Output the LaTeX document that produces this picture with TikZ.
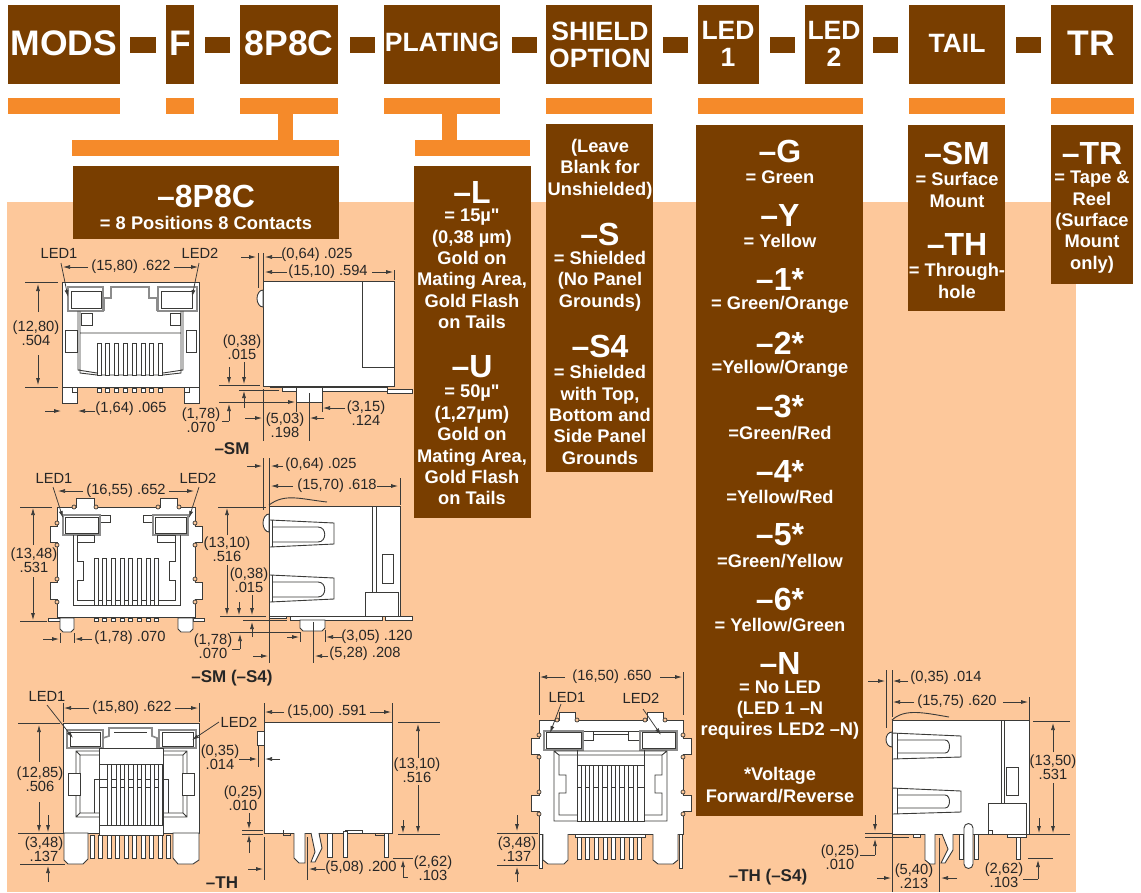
\documentclass[tikz,border=0pt]{standalone}
\usepackage{fontspec}
\defaultfontfeatures[\rmfamily]{}
\setmainfont{Liberation Sans}
\usetikzlibrary{arrows.meta}
\definecolor{brownbox}{HTML}{793E00}
\definecolor{orangebar}{HTML}{F58A2A}
\definecolor{peachbg}{HTML}{FDC89B}
\definecolor{inkline}{HTML}{3A3A38}
\tikzset{
	headbig/.style={text=white, font=\bfseries\fontsize{35.5}{36}\selectfont, inner sep=0pt},
	headmid/.style={text=white, font=\bfseries\fontsize{26.5}{27}\selectfont, align=center, inner sep=0pt},
	optbig/.style={text=white, font=\bfseries\fontsize{32}{32}\selectfont, inner sep=0pt},
	opttxt/.style={text=white, font=\bfseries\fontsize{18.3}{21.4}\selectfont, align=center, inner sep=0pt},
	dimtxt/.style={text=black!85, font=\fontsize{14.7}{14.5}\selectfont, align=center, inner sep=0pt},
	captxt/.style={text=black!85, font=\bfseries\fontsize{17}{17}\selectfont, inner sep=0pt},
	part/.style={draw=inkline, fill=white, line width=0.9pt},
	thinpart/.style={draw=inkline, fill=white, line width=0.6pt},
	edge/.style={draw=inkline, line width=0.9pt},
	ledframe/.style={draw=black!45, fill=white, line width=1.6pt},
	notch/.style={draw=inkline, fill=peachbg, line width=0.7pt},
	dim/.style={draw=inkline, line width=0.75pt},
	dimarrow/.style={dim, -{Latex[length=7pt,width=4pt]}},
}
\begin{document}
\begin{tikzpicture}[x=1pt, y=-1pt]
	\useasboundingbox (0,0) rectangle (1141,892);
	\fill[peachbg] (7,202) rectangle (1076,892);

	% top row
	\foreach \xa/\xb in {8/120,166/194,240/338,384/500,546/652,698/759,805/863,909/1005,1051/1133}
		\fill[brownbox] (\xa,5) rectangle (\xb,84);
	\foreach \xa/\xb in {130/156,205/230,350/375,512/537,663/688,770/795,873/898,1016/1041}
		\fill[brownbox] (\xa,37) rectangle (\xb,53);
	\node[headbig] (mods) at (64,43) {MODS};
	\node[headbig] (f) at (180,43) {F};
	\node[headbig] (pos) at (289,43) {8P8C};
	\node[headmid] (plating) at (442,42) {PLATING};
	\node[headmid] (shield) at (600,45) {SHIELD\\OPTION};
	\node[headmid] (led1) at (728,44) {LED\\1};
	\node[headmid] (led2) at (834,44) {LED\\2};
	\node[headmid] (tail) at (957,43) {TAIL};
	\node[headbig] (tr) at (1091,43) {TR};

	% orange bars
	\foreach \xa/\xb in {8/120,166/194,240/338,384/500,546/652,698/863,909/1005,1051/1134}
		\fill[orangebar] (\xa,98) rectangle (\xb,114);
	\fill[orangebar] (278,114) rectangle (293,140);
	\fill[orangebar] (72,140) rectangle (339,156);
	\fill[orangebar] (442,114) rectangle (457,140);
	\fill[orangebar] (415,140) rectangle (530,156);

	% option boxes
	\fill[brownbox] (73,166) rectangle (339,239);
	\node[optbig] (o8p) at (206,196) {–8P8C};
	\node[opttxt] (o8ptxt) at (206,223) {= 8 Positions 8 Contacts};

	\fill[brownbox] (414,166) rectangle (531,518);
	\node[optbig] (ol) at (472,192) {–L};
	\node[opttxt] (oltxt) at (472,269) {= 15µ"\\(0,38 µm)\\Gold on\\Mating Area,\\Gold Flash\\on Tails};
	\node[optbig] (ou) at (472,367) {–U};
	\node[opttxt] (outxt) at (472,445) {= 50µ"\\(1,27µm)\\Gold on\\Mating Area,\\Gold Flash\\on Tails};

	\fill[brownbox] (546,124) rectangle (653,472);
	\node[opttxt] (oblank) at (600,169) {(Leave\\Blank for\\Unshielded)};
	\node[optbig] (os) at (600,234) {–S};
	\node[opttxt] (ostxt) at (600,281) {= Shielded\\(No Panel\\Grounds)};
	\node[optbig] (os4) at (600,346) {–S4};
	\node[opttxt] (os4txt) at (600,415) {= Shielded\\with Top,\\Bottom and\\Side Panel\\Grounds};

	\fill[brownbox] (696,125) rectangle (863,816);
	\foreach \y/\name/\tag/\txt in {
		151/G/g/{= Green}, 215/Y/y/{= Yellow}, 279/1*/a/{= Green/Orange}, 343/2*/b/{=Yellow/Orange},
		407/3*/c/{=Green/Red}, 471/4*/d/{=Yellow/Red}, 535/5*/e/{=Green/Yellow}, 599/6*/f/{= Yellow/Green}}{
		\node[optbig] (led\tag) at (780,\y) {–\name};
		\node[opttxt] (led\tag txt) at (780,\y+26) {\txt};
	}
	\node[optbig] (ledn) at (780,663) {–N};
	\node[opttxt] (ledntxt) at (780,710) {= No LED\\(LED 1 –N\\requires LED2 –N)};
	\node[opttxt] (ledvolt) at (780,785) {*Voltage\\Forward/Reverse};

	\fill[brownbox] (908,125) rectangle (1005,311);
	\node[optbig] (osm) at (957,153) {–SM};
	\node[opttxt] (osmtxt) at (957,190) {= Surface\\Mount};
	\node[optbig] (oth) at (957,244) {–TH};
	\node[opttxt] (othtxt) at (957,281) {= Through-\\hole};

	\fill[brownbox] (1051,125) rectangle (1133,284);
	\node[optbig] (otr) at (1092,153) {–TR};
	\node[opttxt] (otrtxt) at (1092,222) {= Tape \&\\Reel\\(Surface\\Mount\\only)};

	% -SM front
	\draw[part] (62,282) rectangle (199,387);
	\draw[part] (62,387) rectangle (77,403) (184,387) rectangle (199,403);
	\draw[edge] (72,387) -- (72,392) -- (77,392) (189,387) -- (189,392) -- (184,392);
	\draw[ledframe] (68,287) rectangle (103,311) (158,287) rectangle (197,311);
	\draw[thinpart] (71,291) rectangle (101,308) (161,291) rectangle (192,308);
	\draw[ledframe, fill=none] (104,311) -- (104,298) -- (111,298) -- (111,287) -- (149,287) -- (149,298) -- (157,298) -- (157,311);
	\draw[edge] (78,311) -- (78,370) -- (97,373) (183,311) -- (183,370) -- (163,373) (80,311) -- (80,373) -- (97,375) (181,311) -- (181,373) -- (163,375) (80,333) -- (181,333) (97,375) -- (163,375);
	\draw[part] (65,330) rectangle (77,352) (186,330) rectangle (196,352);
	\draw[part] (81,313) rectangle (92,325) (170,313) rectangle (180,325);
	\foreach \x in {97,105.8,...,160} {
		\draw[part] (\x,343) rectangle ++(4,32);
		\draw[part] (\x,388) rectangle ++(4,4);
	}

	% -SM side
	\draw[part] (263,281) rectangle (394,386);
	\draw[edge] (362,281) -- (362,367) -- (394,367);
	\draw[part] (263,290) arc[start angle=270, end angle=90, x radius=6, y radius=8.5] -- cycle;
	\draw[part] (270,386) -- (270,387) -- (344,387) -- (344,386) -- cycle;
	\draw[part] (282,387) rectangle (387,391);
	\draw[part] (387,389) rectangle (412,393);
	\draw[part] (296,387) rectangle (322,402);

	% -SM (-S4) front
	\draw[part] (57,507) -- (76,507) -- (76,498) -- (94,498) -- (94,507) -- (160,507) -- (160,498) -- (177,498) -- (177,507) -- (195,507) -- (195,526) -- (202,526) -- (202,542) -- (195,542) -- (195,582) -- (202,582) -- (202,599) -- (195,599) -- (195,617) -- (57,617) -- (57,599) -- (50,599) -- (50,582) -- (57,582) -- (57,542) -- (50,542) -- (50,526) -- (57,526) -- cycle;
	\foreach \a/\b in {57/523,57/545,57/579,57/602,195/523,195/545,195/579,195/602,74/507,96/507,158/507,179/507}
		\draw[notch] (\a,\b) circle[radius=2];
	\draw[part] (100,515) rectangle (110,522) (143,515) rectangle (153,522);
	\draw[ledframe] (63,515) rectangle (100,535) (153,515) rectangle (188,535);
	\draw[thinpart] (65,517) rectangle (98,533) (155,517) rectangle (186,533);
	\draw[edge] (73,535) -- (73,605) -- (180,605) -- (180,535) (77,535) -- (77,561) -- (83,561) -- (83,580) -- (77,580) -- (77,600) -- (175,600) -- (175,580) -- (169,580) -- (169,561) -- (175,561) -- (175,535);
	\draw[part] (77,535) rectangle (94,542) (157,535) rectangle (175,542);
	\foreach \x in {94,102.7,...,158} {
		\draw[part] (\x,558) rectangle ++(4,47);
		\draw[part] (\x,618) rectangle ++(4,3);
	}
	\draw[part] (48,618) rectangle (60,621) (193,618) rectangle (204,621);
	\draw[part] (60,618) -- (60,629) -- (63,632) -- (71,632) -- (74,629) -- (74,618) -- cycle;
	\draw[part] (178,618) -- (178,629) -- (181,632) -- (190,632) -- (193,629) -- (193,618) -- cycle;

	% -SM (-S4) side
	\draw[part] (269,506) rectangle (400,616);
	\draw[edge] (269,505) .. controls (285,493) and (300,499) .. (327,502);
	\draw[edge] (372,506) -- (372,592) (376,506) -- (376,592);
	\draw[part] (382,554) rectangle (393,583);
	\draw[part] (365,592) rectangle (398,616);
	\draw[part] (269,514) arc[start angle=270, end angle=90, x radius=6, y radius=9] -- cycle;
	\foreach \y in {520,575} {
		\draw[edge] (270,\y) -- (334,\y+3) -- (334,\y+24) -- (270,\y+27);
		\draw[edge] (272,\y) -- (272,\y+27);
		\draw[edge] (272,\y+7) -- (318,\y+7) .. controls (327,\y+7) and (327,\y+22) .. (318,\y+22) -- (272,\y+22);
	}
	\draw[part] (269,616) rectangle (286,618) (290,616) rectangle (382,620) (385,616) rectangle (412,620);
	\draw[part] (300,620) -- (300,628) -- (303,631) -- (322,631) -- (325,628) -- (325,620) -- cycle;

	% -TH front
	\draw[part] (63,723) rectangle (199,833);
	\draw[ledframe] (67,730) rectangle (103,748) (159,730) rectangle (196,748);
	\draw[thinpart] (70,732) rectangle (100,746) (162,732) rectangle (193,746);
	\draw[ledframe, fill=none] (103,748) -- (103,738) -- (109,736) -- (109,728) -- (152,728) -- (152,736) -- (157,738) -- (157,748);
	\draw[edge] (114,732) -- (147,732);
	\draw[edge] (76,751) rectangle (187,817) (80,755) rectangle (183,813) (76,751) -- (80,755) (187,751) -- (183,755) (76,817) -- (80,813) (187,817) -- (183,813);
	\draw[part] (68,773) rectangle (80,795) (182,773) rectangle (194,795);
	\draw[part] (99,748) rectangle (163,835);
	\draw[edge] (94,813) -- (94,779) -- (168,779) -- (168,813) (99,787) -- (163,787) (99,825) -- (163,825) (99,764) -- (163,764);
	\foreach \x in {107.5,116,...,160} \draw[part] (\x,764) rectangle ++(4,61);
	\draw[part] (64,833) -- (64,860) -- (68,864) -- (83,864) -- (88,859) -- (88,833) -- cycle;
	\draw[part] (173,833) -- (173,858) -- (178,864) -- (193,864) -- (199,860) -- (199,833) -- cycle;
	\foreach \x in {90,98.5,...,170} \draw[part] (\x,835) rectangle ++(4,23);

	% -TH side
	\draw[part] (264,722) rectangle (392,833);
	\draw[part] (264,731) -- (257,731) -- (257,745) -- (264,745);
	\draw[edge] (283,830) -- (283,835) -- (290,835) -- (290,833) (345,833) -- (345,830) -- (362,830) -- (362,833) (375,833) -- (375,835) -- (385,835);
	\draw[part] (294,833) -- (294,858) -- (299,863) -- (305,863) -- (305,833);
	\draw[part] (311,833) -- (315,852) -- (311,862) -- (315,862) -- (322,848) -- (319,833);
	\draw[part] (327,833) rectangle (332,857) (343,831) rectangle (347,857) (384,833) rectangle (388,857);

	% -TH (-S4) front
	\draw[part] (539,720) -- (559,720) -- (559,712) -- (575,712) -- (575,720) -- (647,720) -- (647,712) -- (663,712) -- (663,720) -- (683,720) -- (683,738) -- (691,738) -- (691,754) -- (683,754) -- (683,795) -- (691,795) -- (691,811) -- (683,811) -- (683,834) -- (539,834) -- (539,811) -- (531,811) -- (531,795) -- (539,795) -- (539,754) -- (531,754) -- (531,738) -- (539,738) -- cycle;
	\foreach \a/\b in {539/735,539/757,539/792,539/814,683/735,683/757,683/792,683/814,557/720,577/720,645/720,665/720}
		\draw[notch] (\a,\b) circle[radius=2];
	\draw[edge] (593,731) -- (628,731) (593,734) -- (628,734);
	\draw[part] (582,731) rectangle (593,740) (628,731) rectangle (640,740);
	\draw[ledframe] (544,731) rectangle (583,750) (640,731) rectangle (677,750);
	\draw[thinpart] (546,732) rectangle (581,748) (642,732) rectangle (675,748);
	\draw[edge] (577,750) -- (577,821) (644,750) -- (644,821);
	\draw[edge] (554,751) -- (554,821) -- (667,821) -- (667,751) -- cycle (559,755) -- (559,775) -- (566,775) -- (566,793) -- (559,793) -- (559,815) -- (662,815) -- (662,793) -- (655,793) -- (655,775) -- (662,775) -- (662,755) -- cycle (554,751) -- (559,755) (667,751) -- (662,755);
	\draw[part] (577,765) rectangle (644,821);
	\draw[edge] (577,787) -- (644,787);
	\foreach \x in {581,589.7,...,640} \draw[part] (\x,765) rectangle ++(4,56);
	\draw[part] (543,834) -- (543,860) -- (548,864) -- (564,864) -- (568,860) -- (568,834);
	\draw[part] (653,834) -- (653,860) -- (658,864) -- (673,864) -- (678,860) -- (678,834);
	\draw[part] (575,834) rectangle (645,837);
	\foreach \x in {577,585.7,...,640} \draw[part] (\x,837) rectangle ++(4,22);
	\draw[part] (539,834) rectangle (542,868) (679,834) rectangle (682,868);

	% -TH (-S4) side
	\draw[part] (892,720) rectangle (1029,834);
	\draw[edge] (892,720) .. controls (905,708) and (925,713) .. (949,717);
	\draw[edge] (1001,720) -- (1001,803) (1004,720) -- (1004,803);
	\draw[part] (1006,767) rectangle (1018,795);
	\draw[part] (988,803) rectangle (1026,834);
	\draw[part] (988,830) rectangle (992,834);
	\draw[part] (892,732) arc[start angle=270, end angle=90, x radius=6, y radius=7.5] -- cycle;
	\foreach \y in {733,788} {
		\draw[edge] (892,\y) -- (961,\y+3) -- (961,\y+24) -- (892,\y+26);
		\draw[edge] (897,\y) -- (897,\y+26);
		\draw[edge] (897,\y+7) -- (945,\y+7) .. controls (951,\y+7) and (951,\y+20) .. (945,\y+20) -- (897,\y+20);
	}
	\draw[part] (913,834) rectangle (920,837);
	\draw[part] (925,834) -- (925,860) -- (930,864) -- (935,864) -- (935,834);
	\draw[part] (942,834) -- (948,849) -- (941,863) -- (945,863) -- (953,850) -- (953,834);
	\draw[part] (959,834) rectangle (963,859) (974,834) rectangle (978,859);
	\draw[part] (964,828) arc[start angle=180, end angle=360, radius=4.5] -- (973,864) arc[start angle=0, end angle=180, radius=4.5] -- cycle;
	\draw[part] (1007,834) rectangle (1026,837) (1016,837) rectangle (1020,859);

	% dimensions -SM
	\node[dimtxt] (d1a) at (59,253) {LED1};
	\node[dimtxt] (d1b) at (200,253) {LED2};
	\node[dimtxt] (d1c) at (131,267) {(15,80) .622};
	\coordinate (d1d) at (63,267); \coordinate (d1e) at (198,267);
	\draw[dimarrow] (d1c.west) ++(-3,0) -- (d1d);
	\draw[dimarrow] (d1c.east) ++(3,0) -- (d1e);
	\draw[dimarrow] (61,263) -- (68,297);
	\draw[dimarrow] (199,263) -- (192,297);
	\draw[dim] (25,282) -- (58,282) (25,387) -- (58,387);
	\node[dimtxt] (d1f) at (36,333) {(12,80)\\.504};
	\draw[dimarrow] (38,312) -- (38,284);
	\draw[dimarrow] (38,355) -- (38,385);
	\node[dimtxt] (d1g) at (131,409) {(1,64) .065};
	\draw[dimarrow] (45,411) -- (61,411);
	\draw[dimarrow] (95,411) -- (78,411);

	\node[dimtxt] (d2a) at (317,255) {(0,64) .025};
	\node[dimtxt] (d2b) at (328,272) {(15,10) .594};
	\draw[dim] (258,253) -- (258,288) (263,253) -- (263,281) (394,270) -- (394,280);
	\draw[dimarrow] (241,257) -- (256,257);
	\draw[dimarrow] (282,257) -- (265,257);
	\draw[dimarrow] (287,272) -- (265,272);
	\draw[dimarrow] (372,272) -- (393,272);
	\node[dimtxt] (d2c) at (242,347) {(0,38)\\.015};
	\draw[dim] (219,385) -- (260,385) (239,390) -- (279,390);
	\draw[dimarrow] (229,367) -- (229,384);
	\draw[dimarrow] (244,362) -- (244,384);
	\draw[dimarrow] (244,408) -- (244,391);
	\node[dimtxt] (d2d) at (201,420) {(1,78)\\.070};
	\draw[dim] (222,421) -- (229,421);
	\draw[dimarrow] (229,421) -- (229,404);
	\draw[dim] (263,389) -- (263,441) (309,393) -- (309,441) (296,402) -- (296,412) (322,402) -- (322,412);
	\node[dimtxt] (d2e) at (285,425) {(5,03)\\.198};
	\draw[dimarrow] (245,418) -- (262,418);
	\draw[dimarrow] (324,418) -- (310,418);
	\draw[dimarrow] (219,402) -- (295,402);
	\draw[dimarrow] (345,408) -- (323,408);
	\node[dimtxt] (d2f) at (366,413) {(3,15)\\.124};
	\node[captxt] (cap1) at (232,449) {–SM};

	% dimensions -SM (-S4)
	\node[dimtxt] (d3a) at (54,478) {LED1};
	\node[dimtxt] (d3b) at (198,478) {LED2};
	\node[dimtxt] (d3c) at (126,491) {(16,55) .652};
	\draw[dimarrow] (d3c.west) ++(-3,0) -- (58,491);
	\draw[dimarrow] (d3c.east) ++(3,0) -- (194,491);
	\draw[dimarrow] (53,487) -- (63,518);
	\draw[dimarrow] (199,487) -- (189,518);
	\draw[dim] (20,507) -- (52,507) (20,621) -- (47,621);
	\node[dimtxt] (d3d) at (34,560) {(13,48)\\.531};
	\draw[dimarrow] (33,545) -- (33,508);
	\draw[dimarrow] (33,577) -- (33,620);
	\node[dimtxt] (d3e) at (130,638) {(1,78) .070};
	\draw[dim] (60,633) -- (60,643) (74,633) -- (74,643);
	\draw[dimarrow] (43,639) -- (59,639);
	\draw[dimarrow] (92,639) -- (75,639);
	\node[dimtxt] (d4a) at (321,465) {(0,64) .025};
	\node[dimtxt] (d4b) at (337,486) {(15,70) .618};
	\draw[dim] (263,458) -- (263,510) (269,458) -- (269,663) (400,478) -- (400,505) (218,507) -- (266,507);
	\draw[dimarrow] (247,466) -- (262,466);
	\draw[dimarrow] (283,466) -- (271,466);
	\draw[dimarrow] (293,486) -- (271,486);
	\draw[dimarrow] (377,486) -- (398,486);
	\node[dimtxt] (d4c) at (227,549) {(13,10)\\.516};
	\node[dimtxt] (d4d) at (249,580) {(0,38)\\.015};
	\draw[dimarrow] (227,565) -- (227,615);
	\draw[dimarrow] (227,535) -- (227,508);
	\draw[dimarrow] (239,602) -- (239,615);
	\draw[dimarrow] (252,595) -- (252,615);
	\draw[dim] (220,616) -- (266,616) (243,620) -- (287,620) (230,632) -- (300,632);
	\draw[dimarrow] (252,637) -- (252,622);
	\node[dimtxt] (d4e) at (213,646) {(1,78)\\.070};
	\draw[dim] (232,649) -- (240,649);
	\draw[dimarrow] (240,649) -- (240,634);
	\draw[dim] (300,632) -- (300,642) (325,630) -- (325,642) (313,622) -- (313,663);
	\draw[dimarrow] (287,637) -- (299,637);
	\draw[dimarrow] (342,637) -- (326,637);
	\node[dimtxt] (d4f) at (377,637) {(3,05) .120};
	\draw[dimarrow] (253,656) -- (268,656);
	\draw[dimarrow] (328,656) -- (315,656);
	\node[dimtxt] (d4g) at (365,654) {(5,28) .208};
	\node[captxt] (cap2) at (232,678) {–SM (–S4)};

	% dimensions -TH
	\node[dimtxt] (d5a) at (47,696) {LED1};
	\node[dimtxt] (d5b) at (239,722) {LED2};
	\node[dimtxt] (d5c) at (132,708) {(15,80) .622};
	\draw[dim] (63,703) -- (63,722) (199,703) -- (199,722);
	\draw[dimarrow] (d5c.west) ++(-3,0) -- (64,708);
	\draw[dimarrow] (d5c.east) ++(3,0) -- (198,708);
	\draw[dimarrow] (47,705) -- (73,738);
	\draw[dimarrow] (219,722) -- (192,740);
	\draw[dim] (18,723) -- (60,723) (18,833) -- (63,833) (20,864) -- (65,864);
	\node[dimtxt] (d5d) at (40,779) {(12,85)\\.506};
	\draw[dimarrow] (39,762) -- (39,725);
	\draw[dimarrow] (39,802) -- (39,832);
	\draw[dimarrow] (48,815) -- (48,832);
	\node[dimtxt] (d5e) at (44,849) {(3,48)\\.137};
	\draw[dimarrow] (48,882) -- (48,866);
	\draw[dim] (264,703) -- (264,722) (392,703) -- (392,722);
	\node[dimtxt] (d6a) at (327,712) {(15,00) .591};
	\draw[dimarrow] (d6a.west) ++(-3,0) -- (265,712);
	\draw[dimarrow] (d6a.east) ++(3,0) -- (391,712);
	\node[dimtxt] (d6b) at (220,757) {(0,35)\\.014};
	\draw[dim] (258,745) -- (258,767);
	\draw[dimarrow] (239,759) -- (257,759);
	\draw[dimarrow] (280,759) -- (265,759);
	\node[dimtxt] (d6c) at (243,798) {(0,25)\\.010};
	\draw[dim] (242,830) -- (263,830) (242,834) -- (263,834);
	\draw[dimarrow] (249,813) -- (249,829);
	\draw[dimarrow] (249,853) -- (249,835);
	\node[dimtxt] (d6d) at (417,770) {(13,10)\\.516};
	\draw[dim] (398,722) -- (440,722) (398,834) -- (440,834);
	\draw[dimarrow] (418,758) -- (418,724);
	\draw[dimarrow] (418,785) -- (418,833);
	\draw[dimarrow] (403,820) -- (403,833);
	\node[dimtxt] (d6e) at (361,868) {(5,08) .200};
	\draw[dim] (264,837) -- (264,880) (307,837) -- (307,880);
	\draw[dimarrow] (248,869) -- (263,869);
	\draw[dimarrow] (325,869) -- (309,869);
	\node[dimtxt] (d6f) at (433,868) {(2,62)\\.103};
	\draw[dim] (393,858) -- (413,858) (403,877) -- (408,877);
	\draw[dimarrow] (403,877) -- (403,860);
	\node[captxt] (cap3) at (222,883) {–TH};

	% dimensions -TH (-S4)
	\node[dimtxt] (d7a) at (612,677) {(16,50) .650};
	\draw[dim] (539,672) -- (539,715) (683,672) -- (683,715);
	\draw[dimarrow] (565,677) -- (540,677);
	\draw[dimarrow] (660,677) -- (682,677);
	\node[dimtxt] (d7b) at (567,697) {LED1};
	\node[dimtxt] (d7c) at (641,698) {LED2};
	\draw[dimarrow] (561,704) -- (550,733);
	\draw[dimarrow] (643,709) -- (661,735);
	\node[dimtxt] (d7d) at (517,849) {(3,48)\\.137};
	\draw[dim] (497,833) -- (538,833) (497,865) -- (538,865);
	\draw[dimarrow] (517,815) -- (517,831);
	\draw[dimarrow] (517,882) -- (517,867);
	\node[captxt] (cap4) at (768,877) {–TH (–S4)};

	\node[dimtxt] (d8a) at (946,678) {(0,35) .014};
	\node[dimtxt] (d8b) at (957,702) {(15,75) .620};
	\draw[dim] (886,670) -- (886,728) (892,670) -- (892,717) (892,835) -- (892,892) (1029,697) -- (1029,720);
	\draw[dimarrow] (868,681) -- (885,681);
	\draw[dimarrow] (908,681) -- (893,681);
	\draw[dimarrow] (914,702) -- (893,702);
	\draw[dimarrow] (1003,702) -- (1028,702);
	\node[dimtxt] (d8c) at (1053,767) {(13,50)\\.531};
	\draw[dim] (1033,721) -- (1070,721) (1029,834) -- (1070,834);
	\draw[dimarrow] (1053,752) -- (1053,723);
	\draw[dimarrow] (1053,783) -- (1053,833);
	\draw[dimarrow] (1039,818) -- (1039,833);
	\node[dimtxt] (d8d) at (840,857) {(0,25)\\.010};
	\draw[dim] (865,833) -- (892,833) (865,837) -- (909,837) (860,855) -- (875,855);
	\draw[dimarrow] (875,815) -- (875,831);
	\draw[dimarrow] (875,855) -- (875,839);
	\node[dimtxt] (d8e) at (914,876) {(5,40)\\.213};
	\draw[dim] (939,838) -- (939,892);
	\draw[dimarrow] (877,878) -- (891,878);
	\draw[dimarrow] (957,878) -- (941,878);
	\node[dimtxt] (d8f) at (1004,875) {(2,62)\\.103};
	\draw[dim] (1028,858) -- (1053,858) (1023,879) -- (1038,879);
	\draw[dimarrow] (1038,879) -- (1038,860);
\end{tikzpicture}
\end{document}
